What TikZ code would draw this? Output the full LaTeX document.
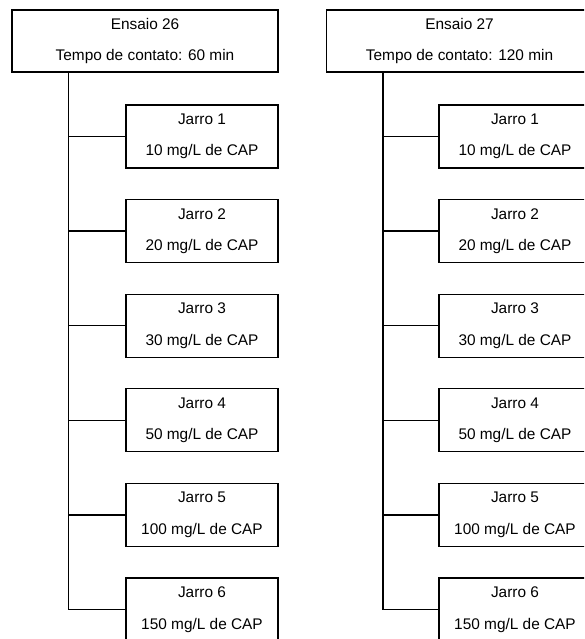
\documentclass[tikz,border=0pt]{standalone}
\usepackage{fontspec}
\setmainfont{Liberation Sans}
\begin{document}
\begin{tikzpicture}[x=1pt,y=-1pt,
  box/.style={draw, line width=1.3pt, inner sep=0pt, align=center,
    font=\fontsize{15.4}{31.5}\selectfont},
  headbox/.style={box, minimum width=266pt, minimum height=62pt},
  jarbox/.style={box, minimum width=152pt, minimum height=63pt},
  link/.style={line width=1.3pt}]
\useasboundingbox (0,0) rectangle (584,639);
\clip (0,0) rectangle (584,639);
% left column
\node[headbox] (e26) at (145,41) {Ensaio 26\\Tempo de contato: 60 min};
\coordinate (t26) at ([xshift=57pt]e26.south west);
\foreach \k/\c in {1/10,2/20,3/30,4/50,5/100,6/150}{
  \node[jarbox] (a\k) at (202,{136.5+94.6*(\k-1)}) {Jarro \k\\\c{} mg/L de CAP};
  \draw[link] (t26) |- (a\k.west);
}
% right column
\node[headbox] (e27) at (459.5,41) {Ensaio 27\\Tempo de contato: 120 min};
\coordinate (t27) at ([xshift=57pt]e27.south west);
\foreach \k/\c in {1/10,2/20,3/30,4/50,5/100,6/150}{
  \node[jarbox] (b\k) at (515,{136.5+94.6*(\k-1)}) {Jarro \k\\\c{} mg/L de CAP};
  \draw[link] (t27) |- (b\k.west);
}
\end{tikzpicture}
\end{document}
